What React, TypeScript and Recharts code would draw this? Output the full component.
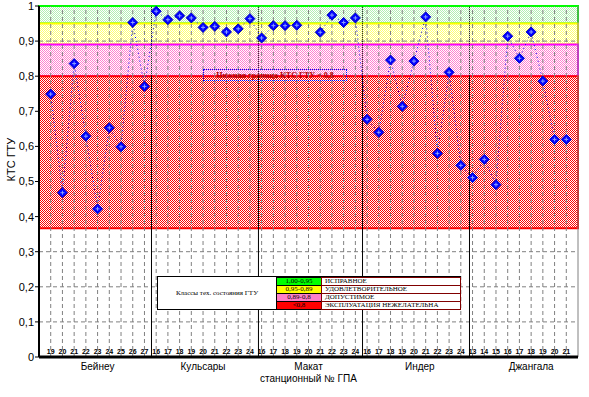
import React from "react";
import { ComposedChart, Line, XAxis, YAxis, ReferenceArea, ReferenceLine } from "recharts";

const groups = ["Бейнеу", "Кульсары", "Макат", "Индер", "Джангала"];
const groupCenters = [5, 14, 23, 32.5, 42];
const groupBreaks = [9.6, 18.73, 27.61, 36.74];

const beineuNo = ["19", "20", "21", "22", "23", "24", "25", "26", "27"];
const kulsaryNo = ["16", "17", "18", "19", "20", "21", "22", "23", "24"];
const makatNo = ["16", "17", "18", "19", "20", "21", "22", "23", "24"];
const inderNo = ["16", "17", "18", "19", "20", "21", "22", "23", "24"];
const dzhangalaNo = ["13", "14", "15", "16", "17", "18", "19", "20", "21"];

const beineuKts = [0.749, 0.468, 0.836, 0.629, 0.422, 0.653, 0.599, 0.953, 0.771];
const kulsaryKts = [0.985, 0.961, 0.972, 0.966, 0.939, 0.942, 0.926, 0.935, 0.964];
const makatKts = [0.909, 0.944, 0.944, 0.945, null, 0.925, 0.974, 0.953, 0.966];
const inderKts = [0.677, 0.64, 0.846, 0.714, 0.843, 0.969, 0.58, 0.811, 0.546];
const dzhangalaKts = [0.511, 0.563, 0.491, 0.914, 0.851, 0.926, 0.786, 0.62, 0.62];

const yTicks = [0, 0.1, 0.2, 0.3, 0.4, 0.5, 0.6, 0.7, 0.8, 0.9, 1];
// zone bounds: исправное / удовл. / допустимое / нежелательна
const zoneBounds = [1, 0.95, 0.89, 0.8, 0.367];
const zoneColors = ["#00ff00", "#ffff00", "#ff00ff", "#ff0000"];
const zoneDots = ["#b4eeb4", "#ffff70", "#ff80d0", "#ff0000"];

const classTitle = "Классы тех. состояния ГТУ";
const classRanges = ["1,00-0,95", "0,95-0,89", "0,89-0,8", "<0,8"];
const classNames = ["ИСПРАВНОЕ", "УДОВЛЕТВОРИТЕЛЬНОЕ", "ДОПУСТИМОЕ", "ЭКСПЛУАТАЦИЯ НЕЖЕЛАТЕЛЬНА"];
const classFills = ["#00ff00", "#ffff00", "#ff7fc8", "#ff0000"];

const noteText = "Нижняя граница КТС ГТУ = 0,8";

const stationNos = [...beineuNo, ...kulsaryNo, ...makatNo, ...inderNo, ...dzhangalaNo];
const ktsValues = [...beineuKts, ...kulsaryKts, ...makatKts, ...inderKts, ...dzhangalaKts];
const data = ktsValues.map((v, i) => ({ pos: i + 1, no: stationNos[i], kts: v }));
const posTicks = data.map((d) => d.pos);
// horizontal grid only shows outside the red zone
const gridY = yTicks.filter((v) => v > 0 && v < 1 && (v < zoneBounds[4] || v > zoneBounds[3]));

const font = "'Liberation Sans', Arial, sans-serif";
const serif = "'Liberation Serif', 'Times New Roman', serif";

function Diamond(props: any) {
  const { cx, cy, index } = props;
  if (cx == null || cy == null || props.value == null) return <g key={index} />;
  const r = 5;
  return (
    <g key={index}>
      <path d={`M${cx},${cy - r}L${cx + r},${cy}L${cx},${cy + r}L${cx - r},${cy}Z`} fill="#0000ff" stroke="#0000c0" />
      <path d={`M${cx - 2},${cy}H${cx + 2}M${cx},${cy - 2}V${cy + 2}`} stroke="#8ca0ff" />
    </g>
  );
}

export default function App() {
  return (
    <div style={{ position: "absolute", left: 0, top: 0, width: 589, height: 397, background: "#fff" }}>
      <svg width={0} height={0} style={{ position: "absolute" }}>
        <defs>
          {zoneDots.map((c, i) => (
            <pattern key={i} id={`zone${i}`} x={0} y={0} width={2} height={2} patternUnits="userSpaceOnUse">
              <rect x={0} y={0} width={2} height={2} fill="#ffffff" />
              <rect x={0} y={0} width={1} height={1} fill={c} />
              <rect x={1} y={1} width={1} height={1} fill={c} />
            </pattern>
          ))}
        </defs>
      </svg>
      <ComposedChart width={589} height={397} data={data} margin={{ top: 6, right: 11, bottom: 0, left: 0 }}>
        <XAxis
          xAxisId="no"
          type="number"
          dataKey="pos"
          domain={[0, 46]}
          allowDataOverflow
          ticks={posTicks}
          height={1}
          mirror
          tickSize={0}
          tickMargin={3}
          tickLine={false}
          interval={0}
          axisLine={{ stroke: "#000", strokeWidth: 3 }}
          tickFormatter={(v: number) => stationNos[v - 1] ?? ""}
          tick={{ fontSize: 7, fill: "#000", fontFamily: font, fontWeight: "bold" }}
        />
        <XAxis
          xAxisId="grp"
          type="number"
          dataKey="pos"
          domain={[0, 46]}
          allowDataOverflow
          ticks={groupCenters}
          height={40}
          tickSize={0}
          tickMargin={6}
          tickLine={false}
          axisLine={false}
          interval={0}
          tickFormatter={(v: number) => groups[groupCenters.indexOf(v)]}
          tick={{ fontSize: 10, fill: "#000", fontFamily: font }}
          label={{ value: "станционный № ГПА", position: "insideBottom", offset: 15, fontSize: 10, fill: "#000", fontFamily: font }}
        />
        <YAxis
          type="number"
          domain={[0, 1]}
          ticks={yTicks}
          width={39}
          tickSize={4}
          tickMargin={1}
          interval={0}
          axisLine={{ stroke: "#000", strokeWidth: 2 }}
          tickLine={{ stroke: "#000" }}
          tickFormatter={(v: number) => String(v).replace(".", ",")}
          tick={{ fontSize: 11, fill: "#000", fontFamily: font }}
          label={{ value: "КТС ГТУ", angle: -90, position: "insideLeft", offset: 11, fontSize: 11, fill: "#000", fontFamily: font }}
        />
        {zoneColors.map((c, i) => (
          <ReferenceArea
            key={i}
            xAxisId="no"
            x1={0}
            x2={46}
            y1={zoneBounds[i + 1]}
            y2={zoneBounds[i]}
            fill={`url(#zone${i})`}
            fillOpacity={1}
            stroke={c}
            strokeWidth={2}
          />
        ))}
        {posTicks.map((p) => (
          <ReferenceLine key={`gx${p}`} xAxisId="no" x={p} stroke="#808080" strokeDasharray="4 3" />
        ))}
        {gridY.map((v) => (
          <ReferenceLine key={`gy${v}`} xAxisId="no" y={v} stroke="#808080" strokeDasharray="4 3" />
        ))}
        <ReferenceLine xAxisId="no" x={46} stroke="#808080" segment={[{ x: 46, y: 0 }, { x: 46, y: zoneBounds[4] }]} />
        {groupBreaks.map((b) => (
          <ReferenceLine key={`s${b}`} xAxisId="no" stroke="#000" segment={[{ x: b, y: 0 }, { x: b, y: 0.8 }]} />
        ))}
        {groupBreaks.map((b) => (
          <ReferenceLine key={`d${b}`} xAxisId="no" stroke="#000" strokeDasharray="1 1" segment={[{ x: b, y: 0.8 }, { x: b, y: 1 }]} />
        ))}
        <Line
          xAxisId="no"
          type="linear"
          dataKey="kts"
          stroke="#0000ff"
          strokeWidth={1}
          strokeDasharray="1 3"
          dot={<Diamond />}
          activeDot={false}
          connectNulls={false}
          isAnimationActive={false}
        />
      </ComposedChart>

      <div
        style={{
          position: "absolute",
          left: 203,
          top: 69,
          width: 142,
          height: 10,
          border: "1px dotted #0000ff",
          color: "#b00000",
          fontFamily: serif,
          fontSize: 8,
          fontWeight: "bold",
          lineHeight: "12px",
          textAlign: "center",
          whiteSpace: "nowrap",
        }}
      >
        {noteText}
      </div>

      <div style={{ position: "absolute", left: 157, top: 276, width: 304, height: 34, background: "#fff", border: "1px solid #000", boxSizing: "border-box" }}>
        <div
          style={{
            position: "absolute",
            left: 0,
            top: 0,
            width: 118,
            height: 32,
            display: "flex",
            alignItems: "center",
            justifyContent: "center",
            fontFamily: serif,
            fontSize: 7,
            color: "#000",
            whiteSpace: "nowrap",
          }}
        >
          {classTitle}
        </div>
        {classRanges.map((r, i) => (
          <React.Fragment key={r}>
            <div
              style={{
                position: "absolute",
                left: 118,
                top: i * 8,
                width: 46,
                height: 9,
                boxSizing: "border-box",
                border: "1px solid #000",
                background: classFills[i],
                fontFamily: serif,
                fontSize: 7,
                lineHeight: "7px",
                textAlign: "center",
                color: "#000",
              }}
            >
              {r}
            </div>
            <div
              style={{
                position: "absolute",
                left: 163,
                top: i * 8,
                width: 140,
                height: 9,
                boxSizing: "border-box",
                border: "1px solid #800000",
                fontFamily: serif,
                fontSize: 7,
                lineHeight: "7px",
                paddingLeft: 3,
                color: "#000",
                whiteSpace: "nowrap",
              }}
            >
              {classNames[i]}
            </div>
          </React.Fragment>
        ))}
      </div>
    </div>
  );
}
